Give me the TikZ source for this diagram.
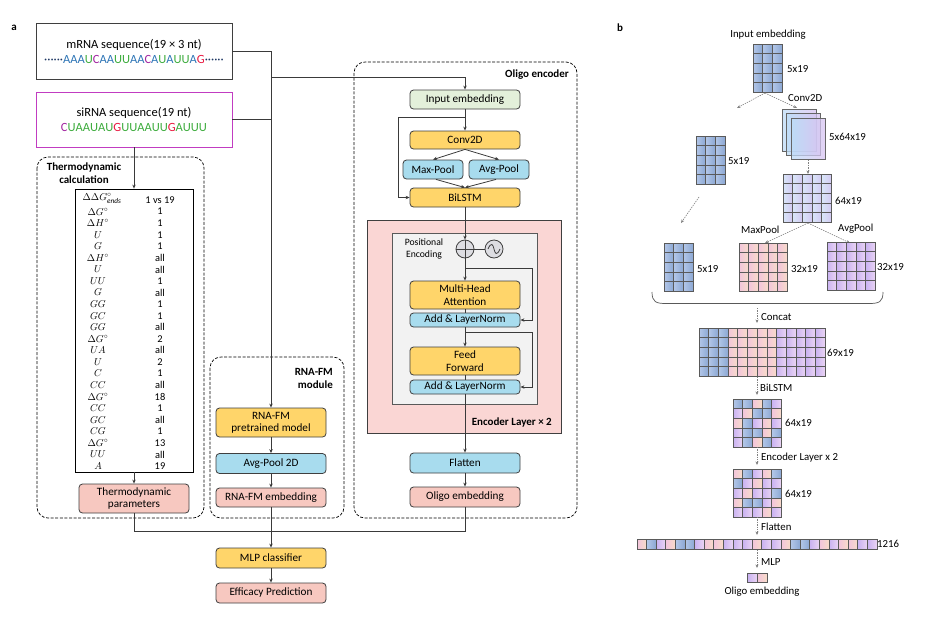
\documentclass[tikz,border=0pt]{standalone}
\usepackage{fontspec}
\setmainfont{Carlito}
\usetikzlibrary{arrows.meta,calc}
\definecolor{bd}{HTML}{3F3F3F}
\definecolor{ln}{HTML}{3A3A3A}
\definecolor{orn}{HTML}{FFD56A}
\definecolor{blu}{HTML}{A8DCEE}
\definecolor{sal}{HTML}{F7C8C0}
\definecolor{grn}{HTML}{E3F0DA}
\definecolor{pnk}{HTML}{FAD6D4}
\definecolor{gry}{HTML}{F2F2F2}
\definecolor{mag}{HTML}{C13CC1}
\definecolor{ntA}{HTML}{2E75B6}
\definecolor{ntU}{HTML}{3CAB3C}
\definecolor{ntC}{HTML}{A0229F}
\definecolor{ntG}{HTML}{E8173F}
\definecolor{dotc}{HTML}{1F3864}
\definecolor{cellline}{HTML}{5A5A5A}
\definecolor{cB1}{HTML}{B3C7E8}
\definecolor{cB2}{HTML}{8BA7D3}
\definecolor{cP1}{HTML}{F2C4DC}
\definecolor{cP2}{HTML}{F8DCC8}
\definecolor{cV1}{HTML}{C9B2F2}
\definecolor{cV2}{HTML}{EBD5F3}
\definecolor{cL1}{HTML}{D8E6F8}
\definecolor{cL2}{HTML}{D3C8F2}
\definecolor{cv1}{HTML}{BCDDF7}
\definecolor{cv2}{HTML}{D9C2F1}
\definecolor{dgray}{HTML}{808080}
\newcommand\fs{\fontsize{11.2}{12.4}\selectfont}
\newcommand\fst{\fontsize{12.5}{15}\selectfont}
\newcommand\fsl{\fontsize{10.8}{12}\selectfont}
\newcommand\fsb{\fontsize{11}{12.6}\selectfont\bfseries}
\newcommand\nA{\textcolor{ntA}{A}}
\newcommand\sA{\textcolor{ntU}{A}}
\newcommand\nU{\textcolor{ntU}{U}}
\newcommand\nC{\textcolor{ntC}{C}}
\newcommand\nG{\textcolor{ntG}{G}}
\newcommand\ugrid[6]{%
  \foreach \gcol in {1,...,#3}{\foreach \grow in {1,...,#4}{%
    \draw[cell,left color=#61,right color=#62] ({#1+(\gcol-1)*#5},{#2+(\grow-1)*#5}) rectangle ++(#5,#5);}}}
\newcommand\pgrid[5]{%
  \foreach \s [count=\k from 0] in {#5}{%
    \pgfmathtruncatemacro\gcol{mod(\k,#3)}\pgfmathtruncatemacro\grow{div(\k,#3)}%
    \draw[cell,left color=c\s1,right color=c\s2] ({#1+\gcol*#4},{#2+\grow*#4}) rectangle ++(#4,#4);}}
\begin{document}
\begin{tikzpicture}[x=1pt,y=-1pt,
  every node/.style={font=\fs},
  box/.style={draw=bd,line width=0.8pt,rounded corners=3.5pt,minimum width=110pt,align=center,inner sep=1pt},
  obox/.style={box,fill=orn},
  bbox/.style={box,fill=blu},
  sbox/.style={box,fill=sal},
  gbox/.style={box,fill=grn},
  grp/.style={draw=black,line width=0.7pt,dash pattern=on 3pt off 1.6pt,rounded corners=11pt},
  ln/.style={draw=ln,line width=0.8pt},
  arr/.style={-{Stealth[length=4pt,width=3.4pt]}},
  darr/.style={draw=dgray,line width=0.6pt,dash pattern=on 1.4pt off 1pt,-{Stealth[length=3.6pt,width=3pt]}},
  cell/.style={draw=cellline,line width=0.7pt},
  conv/.style={draw=gray!80!black,line width=0.7pt,left color=cv1,right color=cv2,fill opacity=0.75},
  lbl/.style={anchor=west,inner sep=0pt,font=\fsl},
  ttl/.style={font=\fsb,inner sep=0pt},
  tabt/.style={inner sep=0pt,font=\fontsize{10.4}{11}\selectfont}
]
\useasboundingbox (0,0) rectangle (936,622);
% ---------------- panel a
\node[ttl] (pa) at (14,28) {a};
\node[draw=bd,line width=0.8pt,minimum width=196pt,minimum height=56pt,align=center,inner sep=1pt,font=\fst] (mrna) at (134,51)
  {mRNA sequence(19 × 3 nt)\\\textcolor{dotc}{······}\nA\nA\nA\nU\nC\nA\nA\nU\nU\nA\nA\nC\nA\nU\nA\nU\nU\nA\nG\textcolor{dotc}{······}};
\node[draw=mag,line width=0.8pt,minimum width=196pt,minimum height=55pt,align=center,inner sep=1pt,font=\fst] (sirna) at (134,119.5)
  {siRNA sequence(19 nt)\\\nC\nU\sA\sA\nU\sA\nU\nG\nU\nU\sA\sA\nU\nU\nG\sA\nU\nU\nU};
% group boxes
\draw[grp] (37,157) rectangle (204,518);
\draw[grp] (210,357) rectangle (344,518);
\draw[grp] (354,62) rectangle (577,518);
\node[ttl,align=center] (thtitle) at (84,173) {Thermodynamic\\calculation};
\node[ttl,align=right,anchor=east] (fmtitle) at (333,378.5) {RNA-FM\\module};
\node[ttl,anchor=east] (oltitle) at (569,75) {Oligo encoder};
% table
\node[draw=black,line width=0.8pt,minimum width=118pt,minimum height=283pt,inner sep=0pt] (tab) at (134,330.5) {};
\node[tabt] (tl0) at (102,198.5) {$\Delta\Delta G^{\circ}_{\mathit{ends}}$};
\node[tabt] (tr0) at (160,200) {1 vs 19};
\foreach \lt/\rt [count=\n from 1] in {%
  {$\Delta G^{\circ}$}/1,{$\Delta H^{\circ}$}/1,{$U$}/1,{$G$}/1,
  {$\Delta H^{\circ}$}/all,{$U$}/all,{$UU$}/1,{$G$}/all,{$GG$}/1,{$GC$}/1,{$GG$}/all,
  {$\Delta G^{\circ}$}/2,{$UA$}/all,{$U$}/2,{$C$}/1,{$CC$}/all,{$\Delta G^{\circ}$}/18,
  {$CC$}/1,{$GC$}/all,{$CG$}/1,{$\Delta G^{\circ}$}/13,{$UU$}/all,{$A$}/19}{
  \node[tabt] (tl\n) at (98,{200+\n*11.57}) {\lt};
  \node[tabt] (tr\n) at (160,{200+\n*11.57}) {\rt};
}
\node[sbox,minimum height=29pt] (thp) at (134,498.5) {Thermodynamic\\parameters};
% RNA-FM
\node[obox,minimum height=29pt] (fmpre) at (271,422.5) {RNA-FM\\pretrained model};
\node[bbox,minimum height=20pt] (fmpool) at (271,463.5) {Avg-Pool 2D};
\node[sbox,minimum height=19pt] (fmemb) at (271,497.5) {RNA-FM embedding};
% Oligo encoder
\node[gbox,minimum height=19pt] (inemb) at (465,99.5) {Input embedding};
\node[obox,minimum height=18pt] (conv) at (465,140) {Conv2D};
\node[bbox,minimum width=60pt,minimum height=19pt] (maxp) at (433,169.5) {Max-Pool};
\node[bbox,minimum width=60pt,minimum height=19pt] (avgp) at (499,169.5) {Avg-Pool};
\node[obox,minimum height=19pt] (bilstm) at (465,197.5) {BiLSTM};
\node[draw=bd,line width=0.8pt,fill=pnk,minimum width=194pt,minimum height=213pt,inner sep=0pt] (enc) at (464,326.5) {};
\node[draw=gray!70!black,line width=0.7pt,fill=gry,minimum width=145pt,minimum height=171pt,inner sep=0pt] (encin) at (464.5,318.5) {};
\node[ttl,anchor=east] (enctitle) at (552,422) {Encoder Layer × 2};
\node[align=center,inner sep=0pt,font=\fontsize{9.7}{12}\selectfont] (posenc) at (424,249) {Positional\\Encoding};
\node[circle,draw=bd,line width=0.8pt,fill=blue!8!gray!25,minimum size=18pt,inner sep=0pt] (plus) at (465,249) {};
\draw[bd,line width=0.9pt] (plus.north) -- (plus.south) (plus.west) -- (plus.east);
\node[circle,draw=bd,line width=0.8pt,fill=blue!8!gray!25,minimum size=18pt,inner sep=0pt] (sine) at (494,249) {};
\draw[bd,line width=0.8pt] ($(sine.center)+(-6,0)$) .. controls ($(sine.center)+(-3,-7)$) and ($(sine.center)+(-1,-5)$) .. (sine.center) .. controls ($(sine.center)+(1,5)$) and ($(sine.center)+(3,7)$) .. ($(sine.center)+(6,0)$);
\node[obox,minimum height=28pt] (mha) at (465,295) {Multi-Head\\Attention};
\node[bbox,minimum height=14pt] (ln1) at (465,320) {Add \& LayerNorm};
\node[obox,minimum height=28pt] (ff) at (465,361) {Feed\\Forward};
\node[bbox,minimum height=14pt] (ln2) at (465,387) {Add \& LayerNorm};
\node[bbox,minimum height=20pt] (flat) at (465,463) {Flatten};
\node[sbox,minimum height=20pt] (olemb) at (465,497) {Oligo embedding};
% bottom
\node[obox,minimum height=20pt] (mlp) at (271,558) {MLP classifier};
\node[sbox,minimum height=20pt] (eff) at (271,593) {Efficacy Prediction};
% ---------------- connectors panel a
\coordinate (jm) at (271,51);
\coordinate (jo) at (271,77);
\coordinate (jb) at (271,531);
\draw[ln] (mrna.east) -- (jm);
\draw[ln] (sirna.east) -- (sirna.east -| jm);
\draw[ln,arr] (jm) -- (fmpre.north);
\draw[ln,arr] (jo) -- (jo -| inemb.north) -- (inemb.north);
\draw[ln,arr] (sirna.south) -- (tab.north);
\draw[ln,arr] (tab.south) -- (thp.north);
\draw[ln,arr] (fmpre.south) -- (fmpool.north);
\draw[ln,arr] (fmpool.south) -- (fmemb.north);
\draw[ln,arr] (fmemb.south) -- (mlp.north);
\draw[ln] (thp.south) -- (thp.south |- jb) -- (jb -| olemb.south) -- (olemb.south);
\draw[ln,arr] (mlp.south) -- (eff.north);
\draw[ln,arr] (inemb.south) -- (conv.north);
\coordinate (sk1) at (465,117);
\coordinate (sk2) at (398,117);
\draw[ln,arr] (sk1) -- (sk2) -- (sk2 |- bilstm.west) -- (bilstm.west);
\draw[ln,arr] (conv.south) -- (maxp.north);
\draw[ln,arr] (conv.south) -- (avgp.north);
\draw[ln,arr] ($(maxp.south)+(3,0)$) -- (bilstm.north);
\draw[ln,arr] ($(avgp.south)+(-3,0)$) -- (bilstm.north);
\draw[ln,arr] (bilstm.south) -- (plus.north);
\draw[ln] (plus.east) -- (sine.west);
\draw[ln,arr] (plus.south) -- (mha.north);
\coordinate (r1) at (465,268);
\coordinate (r1x) at (532,268);
\draw[ln,arr] (r1) -- (r1x) -- (r1x |- ln1.east) -- (ln1.east);
\draw[ln] (mha.south) -- (ln1.north);
\draw[ln,arr] (ln1.south) -- (ff.north);
\coordinate (r2) at (465,332);
\coordinate (r2x) at (532,332);
\draw[ln,arr] (r2) -- (r2x) -- (r2x |- ln2.east) -- (ln2.east);
\draw[ln] (ff.south) -- (ln2.north);
\draw[ln,arr] (ln2.south) -- (flat.north);
\draw[ln,arr] (flat.south) -- (olemb.north);
% ---------------- panel b
\node[ttl] (pb) at (620,28) {b};
\node[font=\fsl] (bin) at (768,35) {Input embedding};
\ugrid{753}{44}{3}{5}{9.7}{cB}
\node[lbl] (l1) at (787,69) {5x19};
\coordinate (g1b) at (765,93);
\coordinate (g1l) at (737,108);
\coordinate (g1r) at (797,108);
\draw[darr] (g1b) -- (g1l);
\draw[darr] (g1b) -- (g1r);
\node[lbl] (lconv) at (788,98) {Conv2D};
\draw[conv] (782,109) rectangle (816,151);
\draw[conv] (786.5,113.5) rectangle (820.5,155);
\draw[conv] (791,118) rectangle (825,159);
\node[lbl] (l2) at (829,137) {5x64x19};
\ugrid{696}{136}{3}{5}{9.7}{cB}
\node[lbl] (l3) at (728,161) {5x19};
\coordinate (cvb) at (808,160);
\coordinate (g3t) at (808,174);
\draw[darr] (cvb) -- (g3t);
\ugrid{783}{174}{5}{5}{9.7}{cL}
\node[lbl] (l4) at (835,201) {64x19};
\coordinate (g2b) at (699,197);
\coordinate (g4t) at (681,223);
\draw[darr] (g2b) -- (g4t);
\coordinate (g3b) at (808,223);
\coordinate (g5t) at (765,243);
\coordinate (g6t) at (850,243);
\draw[darr] (g3b) -- (g5t);
\draw[darr] (g3b) -- (g6t);
\node[lbl] (lmax) at (741,230) {MaxPool};
\node[lbl] (lavg) at (838,229) {AvgPool};
\ugrid{664}{243}{3}{5}{9.7}{cB}
\node[lbl] (l5) at (697,269) {5x19};
\ugrid{739}{243}{5}{5}{9.7}{cP}
\node[lbl] (l6) at (791,269) {32x19};
\ugrid{827}{242}{5}{5}{9.7}{cV}
\node[lbl] (l7) at (877,267) {32x19};
\draw[draw=gray!70!black,line width=0.7pt] (652,292) .. controls (652,302) and (656,303.5) .. (666,303.5) -- (869,303.5) .. controls (879,303.5) and (883,302) .. (883,292);
\coordinate (cc1) at (757,308);
\coordinate (cc2) at (757,323);
\draw[darr] (cc1) -- (cc2);
\node[lbl] (lcat) at (761,317) {Concat};
\ugrid{699}{328}{3}{5}{9.7}{cB}
\ugrid{728.1}{328}{5}{5}{9.7}{cP}
\ugrid{776.6}{328}{5}{5}{9.7}{cV}
\node[lbl] (l8) at (827,353) {69x19};
\coordinate (bl1) at (757,377);
\coordinate (bl2) at (757,395);
\draw[darr] (bl1) -- (bl2);
\node[lbl] (lbil) at (760,388) {BiLSTM};
\pgrid{733}{399}{5}{9.7}{B,B,P,B,V,V,P,B,B,P,P,B,V,P,V,V,B,B,P,B,V,B,P,B,V}
\node[lbl] (l9) at (785,423) {64x19};
\coordinate (el1) at (757,447);
\coordinate (el2) at (757,465);
\draw[darr] (el1) -- (el2);
\node[lbl] (lenc) at (761,458) {Encoder Layer x 2};
\pgrid{733}{469}{5}{9.7}{P,B,V,P,B,B,V,P,V,V,V,P,V,V,B,P,B,B,V,P,V,V,V,P,V}
\node[lbl] (l10) at (785,494) {64x19};
\coordinate (fl1) at (757,517);
\coordinate (fl2) at (757,535);
\draw[darr] (fl1) -- (fl2);
\node[lbl] (lfl) at (761,527) {Flatten};
\pgrid{637}{539.5}{25}{9.6}{P,B,V,P,B,B,V,P,P,V,V,V,P,V,V,P,B,B,V,P,V,P,P,V,V}
\node[lbl] (l11) at (877,544) {1216};
\coordinate (ml1) at (757,550);
\coordinate (ml2) at (757,568);
\draw[darr] (ml1) -- (ml2);
\node[lbl] (lmlp) at (761,562) {MLP};
\pgrid{747.5}{573}{2}{9.7}{V,P}
\node[font=\fsl] (lout) at (762,592) {Oligo embedding};
\end{tikzpicture}
\end{document}
